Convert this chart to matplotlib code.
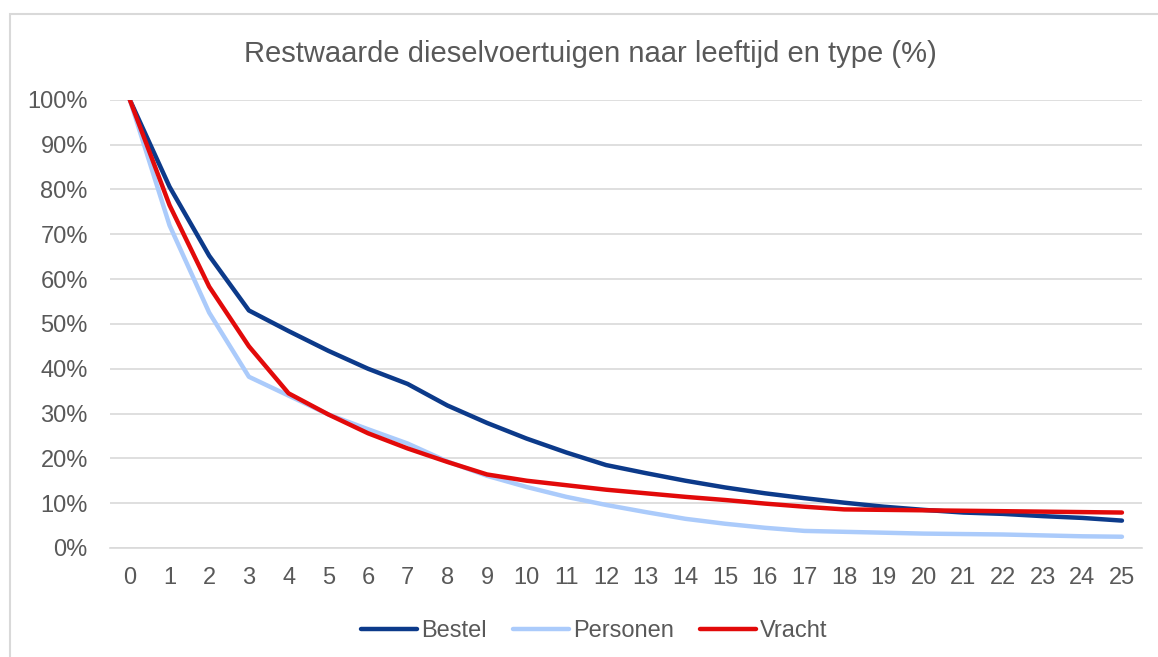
import matplotlib
matplotlib.use("Agg")
import matplotlib.pyplot as plt
from matplotlib.patches import Rectangle
from matplotlib.ticker import PercentFormatter

plt.rcParams["font.family"] = ["Liberation Sans", "DejaVu Sans"]

# Leeftijd (jaren)
leeftijd = list(range(26))

# Restwaarde per type (%)
bestel = [100, 80.6, 65.2, 53.0, 48.4, 44.0, 40.0, 36.6, 31.8, 27.9, 24.4,
          21.3, 18.5, 16.7, 15.0, 13.5, 12.2, 11.1, 10.1, 9.2, 8.5,
          7.9, 7.6, 7.1, 6.7, 6.1]
personen = [100, 72.0, 52.5, 38.2, 34.0, 29.8, 26.5, 23.3, 19.3, 16.1, 13.6,
            11.4, 9.6, 8.0, 6.5, 5.4, 4.5, 3.8, 3.6, 3.4, 3.2,
            3.1, 3.0, 2.8, 2.6, 2.5]
vracht = [100, 76.5, 58.3, 45.0, 34.5, 29.8, 25.6, 22.2, 19.2, 16.4, 15.0,
          14.0, 13.0, 12.2, 11.4, 10.7, 9.9, 9.2, 8.6, 8.5, 8.4,
          8.3, 8.2, 8.1, 8.0, 7.9]

labels = ["Bestel", "Personen", "Vracht"]
colors = ["#0C3A8A", "#ABCBFB", "#E20A0A"]

fig = plt.figure(figsize=(11.58, 6.57), dpi=100)
ax = fig.add_axes([0.095, 0.166, 0.891, 0.682])

for series, label, color in zip([bestel, personen, vracht], labels, colors):
    ax.plot(leeftijd, [v / 100 for v in series], color=color, lw=3.2,
            label=label, solid_capstyle="round", solid_joinstyle="round")

ax.set_xlim(-0.5, 25.5)
ax.set_ylim(0, 1)
ax.set_yticks([i / 10 for i in range(11)])
ax.yaxis.set_major_formatter(PercentFormatter(1.0, decimals=0))
ax.set_xticks(leeftijd)
ax.set_xticklabels([str(x) for x in leeftijd])

ax.grid(axis="y", color="#D9D9D9", lw=1.2)
ax.set_axisbelow(True)
for side in ["top", "right", "left"]:
    ax.spines[side].set_visible(False)
ax.spines["bottom"].set_color("#D9D9D9")
ax.spines["bottom"].set_linewidth(1.2)
ax.tick_params(axis="both", length=0, labelsize=17, colors="#595959")
ax.tick_params(axis="x", pad=14)
ax.tick_params(axis="y", pad=16)

fig.text(0.5095, 0.918, "Restwaarde dieselvoertuigen naar leeftijd en type (%)",
         ha="center", va="center", fontsize=21, color="#595959")

leg = fig.legend(loc="center", bbox_to_anchor=(0.513, 0.039), ncol=3,
                 frameon=False, fontsize=17, handlelength=2.4,
                 handletextpad=0.15, columnspacing=1.1)
for t in leg.get_texts():
    t.set_color("#595959")

# chart border (only left and top edge fall inside the picture)
fig.patches.append(Rectangle((10 / 1158, -0.05), 1.1, 1.05 - 13.5 / 657,
                             transform=fig.transFigure, fill=False,
                             edgecolor="#D9D9D9", lw=1.5))

fig.savefig("out.png", dpi=100)
